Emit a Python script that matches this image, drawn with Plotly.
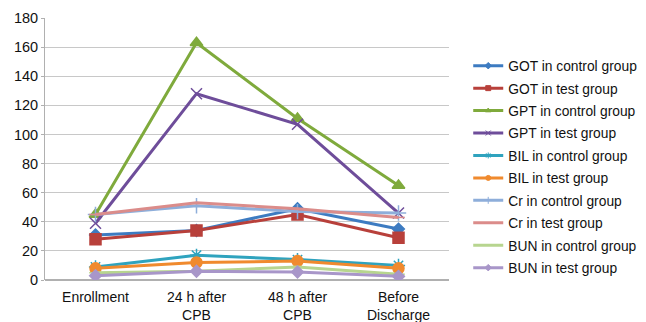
import plotly.graph_objects as go

categories = ["Enrollment", "24 h after<br>CPB", "48 h after<br>CPB", "Before<br>Discharge"]

got_control = [31, 34, 49, 35]
got_test = [28, 34, 45, 29]
gpt_control = [45, 163, 111, 65]
gpt_test = [39, 128, 107, 46]
bil_control = [9, 17, 14, 10]
bil_test = [8, 12, 13, 8]
cr_control = [45, 51, 47, 46]
cr_test = [45, 53, 49, 43]
bun_control = [5, 6, 9, 4]
bun_test = [3, 6, 5.5, 2.5]

series = [
    ("GOT in control group", got_control, "#3D7BC1", "diamond", 9),
    ("GOT in test group", got_test, "#B8403B", "square", 11),
    ("GPT in control group", gpt_control, "#7FAA3C", "triangle-up", 11),
    ("GPT in test group", gpt_test, "#6E4D9A", "x-thin-open", 11),
    ("BIL in control group", bil_control, "#2FA3BE", "asterisk-open", 11),
    ("BIL in test group", bil_test, "#F08A2E", "circle", 11),
    ("Cr in control group", cr_control, "#8EAEDA", "cross-thin-open", 11),
    ("Cr in test group", cr_test, "#DB8C8A", "line-ew-open", 9),
    ("BUN in control group", bun_control, "#B7D58F", "line-ew-open", 9),
    ("BUN in test group", bun_test, "#A896C9", "diamond", 9),
]

fig = go.Figure()
for i, (name, vals, color, sym, size) in enumerate(series):
    fig.add_trace(go.Scatter(
        x=categories, y=vals, name=name, mode="lines+markers",
        legendgroup=f"g{i}", showlegend=False,
        line=dict(color=color, width=3),
        marker=dict(symbol=sym, size=size, color=color,
                    line=dict(color=color, width=1.5)),
    ))
# legend-only entries with small markers, as in the reference
for i, (name, vals, color, sym, size) in enumerate(series):
    fig.add_trace(go.Scatter(
        x=[None], y=[None], name=name, mode="lines+markers",
        legendgroup=f"g{i}", showlegend=True,
        line=dict(color=color, width=3),
        marker=dict(symbol=sym, size=5, color=color,
                    line=dict(color=color, width=1)),
    ))

# page body has an 8px default margin, so the figure is offset by 8px
fig.update_layout(
    width=664, height=314,
    margin=dict(l=37, r=223, t=10, b=42),
    paper_bgcolor="white", plot_bgcolor="white",
    font=dict(family="Liberation Sans, Arial, sans-serif", size=14, color="#111"),
    showlegend=True,
    legend=dict(x=1.0476, y=0.877, xanchor="left", yanchor="top",
                traceorder="grouped", tracegroupgap=1.5,
                font=dict(size=13.8), itemwidth=30),
    xaxis=dict(type="category", range=[-0.5, 3.5], showgrid=False,
               showline=False, ticks="", tickfont=dict(size=14),
               automargin=False, ticklabelstandoff=7),
    yaxis=dict(range=[0, 180], dtick=20, showgrid=True, gridcolor="#C8C8C8",
               gridwidth=1, zeroline=True, zerolinecolor="#B0B0B0",
               showline=True, linecolor="#B0B0B0", ticks="outside",
               ticklen=3, tickcolor="#B0B0B0", tickfont=dict(size=14.5),
               automargin=False),
)

fig.write_html("out.html")
